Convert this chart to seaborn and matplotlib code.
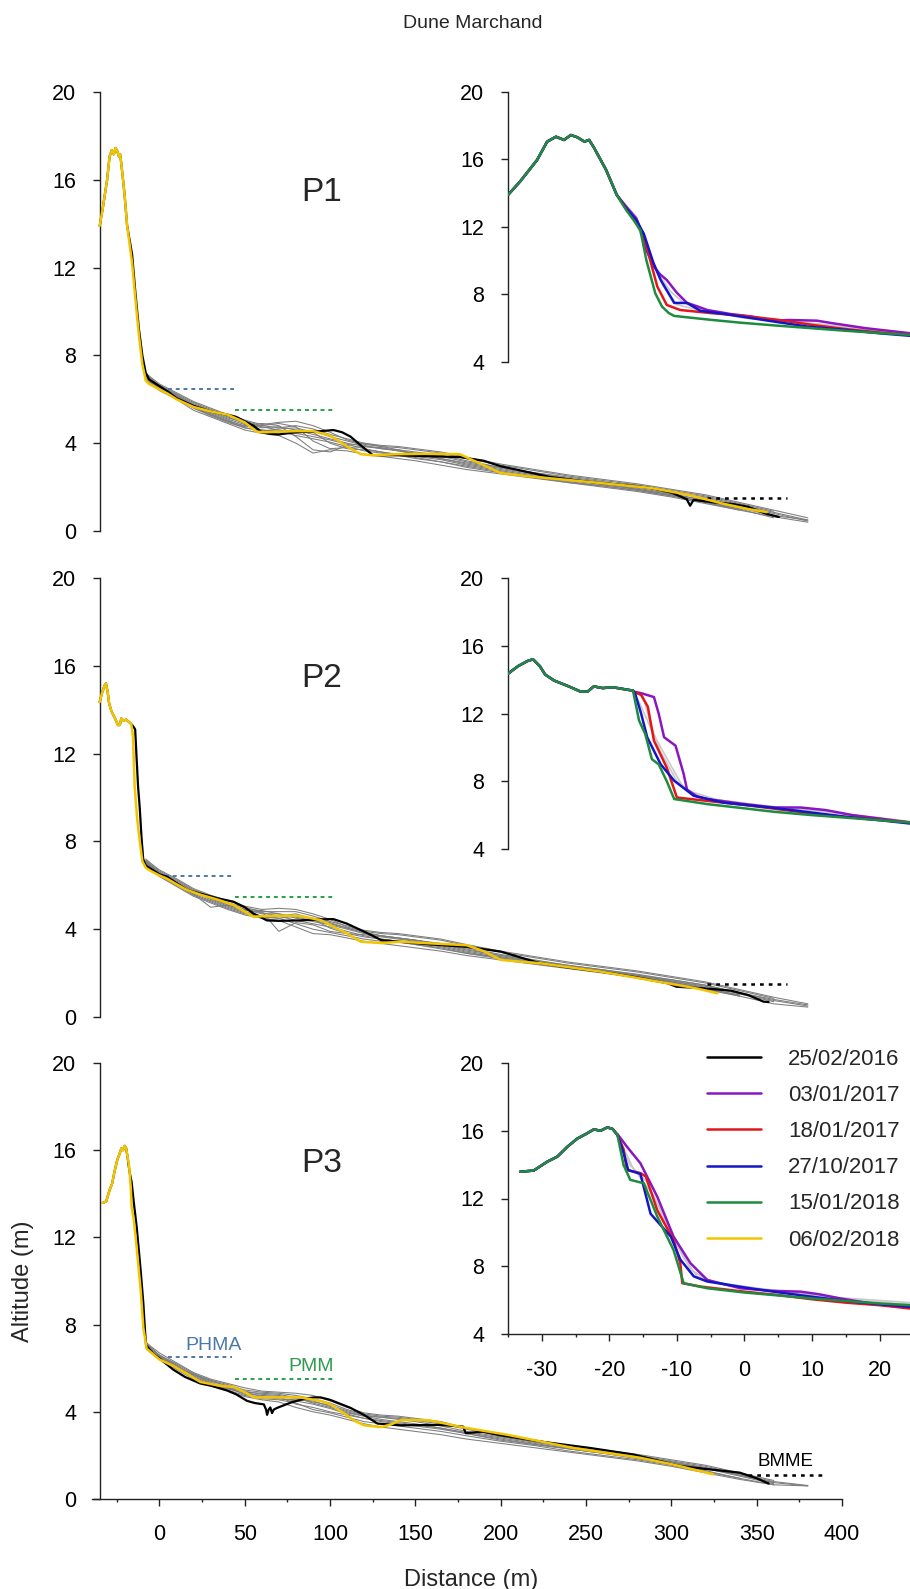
import matplotlib
matplotlib.use("Agg")
import matplotlib.pyplot as plt
import seaborn as sns
from matplotlib.lines import Line2D
from matplotlib.ticker import MultipleLocator

# ---------------- data ----------------
DATES = ["25/02/2016", "03/01/2017", "18/01/2017", "27/10/2017", "15/01/2018", "06/02/2018"]
COLORS = ["#000000", "#8A16C1", "#E3171B", "#1515C8", "#1F8B3E", "#F2C500"]
PANELS = ["P1", "P2", "P3"]

# shared distance grid (m) for the grey survey profiles
GRID = [-8, -5, 0, 10, 20, 30, 40, 50, 60, 70, 80, 90, 100, 110, 120, 130, 140,
        150, 165, 180, 200, 220, 240, 260, 280, 300, 320, 340, 360, 380]

# --- P1 ---
P1_CREST_D = [-35, -33.2, -30.7, -29.2, -27.9, -26.7, -25.7, -24.7, -23.7, -23.0, -22.3, -20.5, -18.9]
P1_CREST_Z = [13.9, 14.7, 15.97, 17.06, 17.35, 17.16, 17.45, 17.31, 17.06, 17.16, 16.72, 15.4, 13.9]
P1_BLACK_D = [-16, -14, -12, -10, -8, -6, 0, 5, 10, 20, 30, 40, 45, 50, 55, 60, 65, 70, 80, 92, 102,
              107, 112, 118, 125, 140, 160, 176, 190, 200, 215, 229, 245, 258, 275, 288, 300, 309,
              311, 313, 325, 336, 345, 355, 363]
P1_BLACK_Z = [12.6, 10.8, 9.2, 8.0, 7.2, 6.9, 6.6, 6.35, 6.05, 5.7, 5.45, 5.3, 5.2, 5.0, 4.8, 4.5,
              4.42, 4.4, 4.5, 4.53, 4.6, 4.5, 4.3, 3.9, 3.46, 3.45, 3.4, 3.37, 3.2, 2.95, 2.7, 2.46,
              2.3, 2.19, 2.08, 1.96, 1.75, 1.45, 1.15, 1.42, 1.3, 1.23, 1.1, 0.8, 0.64]
P1_YELLOW_D = [-16, -14, -12, -10, -8, -6, 0, 5, 10, 20, 30, 40, 50, 57, 62, 70, 80, 90, 100, 107,
               112, 118, 125, 140, 160, 176, 190, 200, 215, 229, 258, 288, 310, 330, 345, 356]
P1_YELLOW_Z = [12.2, 10.5, 8.9, 7.6, 6.85, 6.7, 6.45, 6.25, 6.0, 5.65, 5.45, 5.3, 4.95, 4.52, 4.5,
               4.52, 4.55, 4.55, 4.35, 4.0, 3.75, 3.5, 3.45, 3.5, 3.52, 3.5, 3.0, 2.64, 2.5, 2.4,
               2.19, 1.96, 1.65, 1.25, 1.0, 0.86]
P1_GREY = [
    [7.1, 6.9, 6.6, 6.2, 5.8, 5.5, 5.2, 4.9, 4.7, 4.75, 4.6, 4.4, 4.2, 4.0, 3.85, 3.75, 3.7, 3.6, 3.45, 3.2, 2.9, 2.65, 2.4, 2.2, 2.0, 1.75, 1.5, 1.15, 0.8, 0.45],
    [7.0, 6.8, 6.5, 6.1, 5.6, 5.3, 5.0, 4.8, 4.9, 4.8, 4.3, 3.7, 3.6, 3.9, 4.0, 3.85, 3.7, 3.5, 3.3, 3.05, 2.8, 2.55, 2.35, 2.15, 1.9, 1.65, 1.3, 0.95],
    [7.2, 7.0, 6.7, 6.3, 5.9, 5.6, 5.3, 5.05, 4.85, 4.95, 5.0, 4.8, 4.5, 4.15, 3.95, 3.85, 3.8, 3.7, 3.55, 3.3, 3.0, 2.75, 2.5, 2.3, 2.1, 1.85, 1.6, 1.25, 0.9],
    [6.9, 6.7, 6.4, 6.0, 5.5, 5.2, 4.9, 4.6, 4.45, 4.35, 4.0, 3.55, 3.7, 3.65, 3.5, 3.4, 3.3, 3.2, 3.0, 2.8, 2.6, 2.4, 2.2, 2.0, 1.8, 1.55, 1.25, 0.95, 0.65, 0.4],
    [7.0, 6.85, 6.6, 6.2, 5.7, 5.4, 5.1, 4.85, 4.6, 4.5, 4.6, 4.55, 4.3, 4.1, 3.9, 3.75, 3.65, 3.5, 3.3, 3.1, 2.85, 2.6, 2.35, 2.15, 1.95, 1.7, 1.4],
    [7.1, 6.9, 6.55, 6.15, 5.75, 5.45, 5.15, 4.95, 4.75, 4.6, 4.45, 4.3, 4.15, 3.95, 3.75, 3.6, 3.5, 3.4, 3.25, 3.0, 2.75, 2.5, 2.3, 2.1, 1.9, 1.65, 1.4, 1.05, 0.7, 0.5],
    [7.0, 6.8, 6.5, 6.1, 5.65, 5.3, 5.0, 4.7, 4.55, 4.65, 4.7, 4.5, 4.0, 3.75, 3.7, 3.6, 3.45, 3.35, 3.15, 2.95, 2.7, 2.45, 2.25, 2.05, 1.85, 1.6, 1.35, 1.0, 0.6],
    [7.05, 6.85, 6.55, 6.15, 5.7, 5.35, 5.05, 4.75, 4.8, 4.9, 4.75, 4.1, 3.75, 3.8, 3.85, 3.8, 3.65, 3.55, 3.4, 3.15, 2.9, 2.65, 2.45, 2.25, 2.0, 1.8, 1.55, 1.2, 0.85, 0.5],
    [6.95, 6.75, 6.45, 6.05, 5.6, 5.25, 4.95, 4.7, 4.6, 4.55, 4.35, 4.2, 4.05, 3.85, 3.65, 3.55, 3.45, 3.3, 3.15, 2.9, 2.65, 2.45, 2.2, 2.05, 1.85, 1.6, 1.3, 1.0],
    [7.15, 6.95, 6.65, 6.25, 5.85, 5.55, 5.25, 5.0, 4.8, 4.7, 4.8, 4.65, 4.4, 4.2, 4.0, 3.9, 3.85, 3.75, 3.6, 3.35, 3.05, 2.8, 2.55, 2.35, 2.15, 1.9, 1.65, 1.3, 0.95, 0.6],
]
# inset (zoom on the dune front), coloured surveys after the common crest
P1_PURPLE_D = [-18.9, -17.5, -16, -15.4, -14.5, -13.4, -12.5, -11.5, -10, -8.5, -7, -5.5, -2, 1, 4.3, 6.5, 10.7, 13, 18, 24.6]
P1_PURPLE_Z = [13.9, 13.2, 12.5, 11.9, 10.6, 9.65, 9.2, 8.86, 8.1, 7.5, 7.3, 7.08, 6.84, 6.7, 6.45, 6.49, 6.45, 6.3, 6.0, 5.7]
P1_RED_D = [-18.9, -17.5, -16, -14.9, -13.8, -12.9, -11.5, -9.5, -5, -0.6, 5, 10, 15, 20, 24.6]
P1_RED_Z = [13.9, 13.1, 12.3, 11.5, 9.8, 8.47, 7.38, 7.08, 6.9, 6.75, 6.5, 6.2, 5.95, 5.75, 5.6]
P1_BLUE_D = [-18.9, -17.5, -16, -14.9, -13.5, -12.4, -10.4, -8.5, -6.5, -3, -0.6, 4.3, 9.3, 15, 20, 24.6]
P1_BLUE_Z = [13.9, 13.1, 12.4, 11.6, 9.9, 8.86, 7.5, 7.5, 7.03, 6.85, 6.7, 6.4, 6.1, 5.9, 5.7, 5.55]
P1_GREEN_D = [-18.9, -17.5, -16.4, -15.4, -14.5, -13.2, -12.2, -11.2, -10.4, -5, -0.6, 5, 10, 15, 20, 24.6]
P1_GREEN_Z = [13.9, 13.0, 12.4, 11.8, 10.0, 8.07, 7.28, 6.9, 6.73, 6.5, 6.33, 6.15, 6.0, 5.85, 5.72, 5.6]
P1_LIGHT = [
    ([-18.9, -16, -14.5, -13, -11, -9, -6, 0, 8, 16, 24.6], [13.9, 12.6, 11.0, 9.4, 8.2, 7.5, 7.0, 6.7, 6.35, 6.0, 5.65]),
    ([-18.9, -16, -14, -12, -10, -7, 0, 10, 18, 24.6], [13.9, 12.2, 10.2, 8.5, 7.4, 7.1, 6.6, 6.3, 5.95, 5.7]),
]

# --- P2 ---
P2_CREST_D = [-35, -33.5, -32.1, -31.3, -30.3, -29.5, -28.2, -26, -24.3, -23.2, -22.3, -21, -19.5, -18, -16.5]
P2_CREST_Z = [14.35, 14.8, 15.1, 15.2, 14.8, 14.3, 13.95, 13.6, 13.3, 13.3, 13.6, 13.5, 13.55, 13.45, 13.35]
P2_BLACK_D = [-15, -14.2, -13.5, -12.5, -11.5, -10.5, -9.5, -8, -5, 0, 4.5, 10, 16, 25, 34, 43.5, 50,
              55, 63, 70, 82.6, 95, 102, 110, 118, 125, 130, 141, 160, 180, 200, 223, 240, 258.5,
              280, 297.6, 303, 320, 335, 345, 354, 357]
P2_BLACK_Z = [13.2, 13.1, 12.0, 10.5, 9.5, 8.2, 7.2, 6.9, 6.75, 6.5, 6.39, 6.1, 5.79, 5.6, 5.41, 5.25,
              5.0, 4.72, 4.4, 4.38, 4.4, 4.45, 4.46, 4.25, 3.96, 3.7, 3.5, 3.43, 3.3, 3.2, 2.98,
              2.45, 2.25, 2.07, 1.8, 1.54, 1.38, 1.3, 1.2, 1.0, 0.7, 0.68]
P2_YELLOW_D = [-15.5, -14.5, -13, -11.5, -10, -8, -5, 0, 4.5, 10, 16, 25, 34, 43.5, 55, 63, 75, 82.6,
               95, 102, 110, 118, 129.5, 141, 160, 180, 190, 200, 223, 258.5, 297.6, 315, 327]
P2_YELLOW_Z = [12.8, 10.5, 9.0, 8.0, 7.1, 6.8, 6.65, 6.45, 6.3, 6.05, 5.79, 5.55, 5.35, 5.1, 4.57,
               4.6, 4.62, 4.6, 4.4, 4.11, 3.8, 3.43, 3.37, 3.43, 3.35, 3.27, 3.0, 2.6, 2.45, 2.07,
               1.54, 1.3, 1.08]
P2_GREY = [
    [7.1, 6.9, 6.6, 6.2, 5.75, 5.45, 5.2, 4.9, 4.7, 4.7, 4.55, 4.4, 4.25, 4.05, 3.85, 3.7, 3.6, 3.5, 3.35, 3.15, 2.85, 2.6, 2.35, 2.15, 1.95, 1.7, 1.45, 1.1, 0.75, 0.5],
    [7.0, 6.8, 6.5, 6.05, 5.6, 5.0, 5.1, 4.85, 4.8, 3.9, 4.3, 4.2, 3.9, 3.8, 3.75, 3.65, 3.55, 3.45, 3.25, 3.0, 2.75, 2.5, 2.3, 2.1, 1.85, 1.6, 1.3, 0.95],
    [7.2, 7.0, 6.7, 6.3, 5.85, 5.55, 5.3, 5.05, 4.9, 4.95, 4.9, 4.7, 4.45, 4.1, 3.9, 3.8, 3.75, 3.65, 3.5, 3.25, 2.95, 2.7, 2.45, 2.25, 2.05, 1.8, 1.55, 1.2, 0.85],
    [6.9, 6.7, 6.4, 5.95, 5.5, 5.2, 4.9, 4.65, 4.5, 4.4, 4.1, 3.8, 3.75, 3.6, 3.45, 3.35, 3.25, 3.15, 3.0, 2.8, 2.6, 2.4, 2.2, 2.0, 1.8, 1.55, 1.25, 0.95, 0.6, 0.45],
    [7.0, 6.85, 6.55, 6.15, 5.7, 5.35, 5.05, 4.8, 4.6, 4.5, 4.6, 4.5, 4.3, 4.05, 3.85, 3.7, 3.6, 3.5, 3.3, 3.05, 2.8, 2.55, 2.3, 2.1, 1.9, 1.65, 1.35],
    [7.1, 6.9, 6.55, 6.1, 5.7, 5.4, 5.1, 4.9, 4.75, 4.6, 4.4, 4.25, 4.1, 3.9, 3.7, 3.55, 3.45, 3.35, 3.2, 2.95, 2.7, 2.5, 2.3, 2.1, 1.9, 1.65, 1.4, 1.05, 0.7],
    [7.0, 6.8, 6.5, 6.1, 5.6, 5.3, 5.0, 4.75, 4.6, 4.6, 4.7, 4.45, 4.05, 3.8, 3.65, 3.55, 3.45, 3.3, 3.1, 2.9, 2.65, 2.45, 2.25, 2.05, 1.8, 1.55, 1.3, 1.0],
    [7.05, 6.85, 6.55, 6.1, 5.65, 5.4, 5.15, 4.9, 4.85, 4.7, 4.5, 4.35, 4.2, 4.0, 3.8, 3.7, 3.6, 3.5, 3.3, 3.1, 2.8, 2.55, 2.35, 2.15, 1.9, 1.7, 1.45, 1.1, 0.8, 0.55],
    [6.95, 6.75, 6.45, 6.0, 5.55, 5.25, 4.95, 4.7, 4.55, 4.5, 4.25, 4.0, 3.85, 3.7, 3.55, 3.45, 3.4, 3.3, 3.15, 2.9, 2.7, 2.45, 2.25, 2.05, 1.85, 1.6, 1.3, 1.0],
    [7.15, 6.95, 6.65, 6.25, 5.8, 5.5, 5.2, 5.0, 4.8, 4.8, 4.8, 4.6, 4.35, 4.15, 3.95, 3.85, 3.8, 3.7, 3.55, 3.3, 3.0, 2.75, 2.5, 2.3, 2.1, 1.85, 1.6, 1.25, 0.9, 0.6],
]
P2_PURPLE_D = [-16.5, -15.3, -13.4, -12.7, -11.9, -10.2, -9, -8.5, -7, -5.5, 0, 4.3, 8.3, 12, 16, 20, 24.6]
P2_PURPLE_Z = [13.3, 13.2, 12.97, 12.0, 10.6, 10.1, 8.43, 7.5, 7.1, 6.95, 6.65, 6.45, 6.45, 6.3, 6.0, 5.8, 5.56]
P2_RED_D = [-16.5, -15.3, -14.3, -13.4, -11.5, -10, -5.5, 0, 5, 10, 15, 20, 24.6]
P2_RED_Z = [13.3, 13.1, 12.4, 10.4, 8.8, 7.04, 6.84, 6.6, 6.35, 6.1, 5.9, 5.72, 5.56]
P2_BLUE_D = [-16.5, -16.2, -15.3, -14.4, -12.4, -10.4, -7.5, -3.1, 4.3, 10, 15, 20, 24.6]
P2_BLUE_Z = [13.35, 13.2, 12.0, 10.6, 9.0, 8.03, 7.14, 6.74, 6.43, 6.15, 5.9, 5.7, 5.5]
P2_GREEN_D = [-16.5, -15.6, -14.7, -13.7, -12.7, -11.5, -10.4, -5.5, 0, 4.3, 10, 15, 20, 24.6]
P2_GREEN_Z = [13.35, 11.58, 10.8, 9.3, 9.0, 8.0, 6.95, 6.65, 6.4, 6.2, 6.0, 5.85, 5.7, 5.56]
P2_LIGHT = [
    ([-16.5, -15, -14, -12.5, -10, -8, -4, 4, 12, 24.6], [13.35, 13.0, 11.5, 9.8, 8.0, 7.4, 6.9, 6.5, 6.2, 5.6]),
    ([-16.5, -15.5, -13.5, -11, -9, -6, 2, 12, 24.6], [13.3, 12.6, 10.8, 9.0, 7.6, 7.0, 6.6, 6.2, 5.62]),
]

# --- P3 ---
P3_CREST_D = [-33.2, -31.2, -29.2, -27.7, -26.2, -24.7, -23.5, -22.3, -21.3, -20.3, -19.5, -18.8]
P3_CREST_Z = [13.58, 13.65, 14.17, 14.47, 15.06, 15.55, 15.8, 16.08, 16.0, 16.2, 16.1, 15.75]
P3_BLACK_D = [-17.5, -16.3, -15, -13.3, -11, -9.4, -8.5, -7.8, -3.5, 0, 8.2, 15, 23.9, 30, 39.6, 45,
              51.4, 56, 61.2, 62.5, 63.1, 64, 65, 66, 67, 69, 76.9, 85, 90.6, 94.5, 100, 112, 120,
              127.8, 141.6, 164.5, 178, 179.5, 189.3, 200, 223, 252.5, 277.8, 305, 320, 340, 350, 357]
P3_BLACK_Z = [15.0, 14.55, 13.6, 12.47, 10.5, 8.96, 7.8, 7.05, 6.65, 6.45, 5.93, 5.6, 5.3, 5.2, 4.98,
              4.8, 4.5, 4.4, 4.34, 4.1, 3.86, 4.1, 4.2, 3.94, 4.1, 4.18, 4.42, 4.6, 4.66, 4.66, 4.55,
              4.18, 3.85, 3.46, 3.38, 3.4, 3.32, 3.02, 3.09, 2.92, 2.64, 2.34, 2.04, 1.51, 1.38,
              1.21, 0.95, 0.71]
P3_YELLOW_D = [-17.8, -16.8, -16.3, -15, -13.3, -11, -9.4, -7.5, -3, 0, 8.2, 15, 23.9, 35, 43.5, 50,
               55.3, 63, 82.7, 94.5, 100, 108, 114, 120, 129.8, 135, 141.6, 157, 164.5, 176.9,
               203.6, 242.7, 281.8, 300, 324.7]
P3_YELLOW_Z = [15.3, 14.3, 13.4, 12.8, 11.5, 9.6, 7.85, 6.9, 6.6, 6.4, 6.1, 5.8, 5.37, 5.2, 5.14,
               4.9, 4.66, 4.66, 4.66, 4.5, 4.35, 3.94, 3.6, 3.38, 3.3, 3.4, 3.62, 3.62, 3.51, 3.3,
               2.95, 2.34, 1.89, 1.6, 1.13]
P3_GREY = [
    [7.1, 6.9, 6.55, 6.1, 5.7, 5.4, 5.2, 4.95, 4.8, 4.75, 4.6, 4.45, 4.3, 4.05, 3.85, 3.75, 3.7, 3.6, 3.45, 3.2, 2.9, 2.65, 2.4, 2.2, 1.95, 1.7, 1.45, 1.1, 0.75, 0.6],
    [7.0, 6.8, 6.5, 6.0, 5.75, 5.3, 5.05, 4.85, 4.75, 4.7, 4.35, 4.2, 4.0, 3.85, 3.7, 3.55, 3.45, 3.35, 3.2, 3.0, 2.75, 2.5, 2.3, 2.1, 1.85, 1.6, 1.3, 0.95],
    [7.2, 7.0, 6.7, 6.25, 5.8, 5.5, 5.3, 5.1, 4.95, 4.9, 4.85, 4.75, 4.5, 4.2, 3.95, 3.85, 3.8, 3.7, 3.55, 3.25, 2.95, 2.7, 2.45, 2.25, 2.05, 1.8, 1.55, 1.2, 0.85],
    [6.9, 6.7, 6.4, 5.95, 5.5, 5.2, 4.95, 4.7, 4.55, 4.45, 4.2, 4.0, 3.85, 3.65, 3.45, 3.3, 3.2, 3.1, 2.95, 2.75, 2.55, 2.35, 2.15, 1.95, 1.75, 1.5, 1.2, 0.9, 0.65, 0.6],
    [7.0, 6.85, 6.6, 6.15, 5.65, 5.35, 5.1, 4.8, 4.65, 4.6, 4.55, 4.5, 4.25, 4.0, 3.8, 3.65, 3.55, 3.45, 3.25, 3.05, 2.8, 2.55, 2.3, 2.1, 1.9, 1.65, 1.35],
    [7.1, 6.9, 6.55, 6.1, 5.7, 5.45, 5.15, 4.9, 4.7, 4.6, 4.5, 4.35, 4.15, 3.9, 3.7, 3.6, 3.5, 3.4, 3.25, 3.0, 2.7, 2.5, 2.3, 2.1, 1.9, 1.65, 1.4, 1.05, 0.7],
    [7.05, 6.85, 6.5, 6.05, 5.6, 5.3, 5.1, 4.9, 4.85, 4.8, 4.65, 4.4, 4.2, 3.95, 3.8, 3.75, 3.65, 3.55, 3.35, 3.1, 2.85, 2.6, 2.35, 2.15, 1.95, 1.7, 1.4, 1.1, 0.75],
    [6.95, 6.75, 6.45, 6.0, 5.55, 5.25, 5.0, 4.75, 4.6, 4.55, 4.4, 4.1, 3.95, 3.75, 3.55, 3.45, 3.35, 3.25, 3.1, 2.9, 2.65, 2.45, 2.2, 2.0, 1.8, 1.55, 1.25, 0.95, 0.65],
    [7.15, 6.95, 6.6, 6.2, 5.75, 5.45, 5.25, 5.0, 4.9, 4.85, 4.75, 4.6, 4.4, 4.1, 3.9, 3.8, 3.75, 3.65, 3.5, 3.25, 2.95, 2.7, 2.45, 2.25, 2.0, 1.75, 1.5, 1.15, 0.8, 0.62],
]
P3_PURPLE_D = [-18.8, -17.4, -15.4, -12.9, -10.5, -8, -5.5, -0.6, 4, 8.3, 11, 14.2, 18, 24.6]
P3_PURPLE_Z = [15.8, 15.06, 14.08, 12.1, 9.75, 8.18, 7.19, 6.7, 6.55, 6.5, 6.35, 6.1, 5.85, 5.6]
P3_RED_D = [-18.8, -17.9, -17.4, -15.4, -14.6, -12.9, -10.5, -9.5, -9.2, -6.5, 0, 5, 10, 15, 20, 24.6]
P3_RED_Z = [15.75, 14.9, 13.68, 13.5, 13.3, 11.3, 9.55, 8.18, 7.0, 6.8, 6.5, 6.3, 6.05, 5.85, 5.7, 5.5]
P3_BLUE_D = [-18.8, -17.9, -17.2, -15.4, -13.9, -10.9, -9.5, -7.5, -5.5, 0, 4.3, 10, 15, 20, 24.6]
P3_BLUE_Z = [15.75, 14.7, 13.68, 13.45, 11.1, 9.75, 8.4, 7.4, 7.1, 6.75, 6.5, 6.2, 5.95, 5.75, 5.6]
P3_GREEN_D = [-18.8, -17.9, -16.9, -14.9, -12.9, -10.5, -9, -5.5, 0, 4.3, 10, 15, 20, 24.6]
P3_GREEN_Z = [15.75, 13.98, 13.1, 12.9, 10.93, 8.96, 7.0, 6.7, 6.45, 6.3, 6.1, 5.95, 5.8, 5.7]
P3_LIGHT = [
    ([-18.8, -17, -14.5, -12, -9.5, -8, -5, 2, 12, 24.6], [15.75, 14.0, 13.0, 11.0, 9.0, 7.8, 7.1, 6.7, 6.2, 5.85]),
    ([-18.8, -16.5, -13.5, -11, -9, -7, -3, 6, 16, 24.6], [15.75, 13.8, 12.2, 10.0, 8.5, 7.4, 6.9, 6.5, 6.0, 5.75]),
]

# reference levels: PHMA, PMM, BMME  (level, start, end)
PHMA = [(6.47, 5, 43.5), (6.44, 3.5, 42.6), (6.5, 5, 42.5)]
PMM = [(5.5, 44.5, 103), (5.48, 44.5, 102), (5.5, 44.5, 102)]
BMME = [(1.5, 321, 368), (1.5, 321, 368), (1.1, 345, 388)]

# ---------------- style ----------------
sns.set_theme(style="ticks")
plt.rcParams["font.family"] = ["Liberation Sans", "DejaVu Sans"]
plt.rcParams["axes.linewidth"] = 1.0
plt.rcParams["axes.unicode_minus"] = False

GREY = "#7d7d7d"
LIGHT = "#c9c9c9"
PHMA_C = "#4C78A8"
PMM_C = "#2E9B4E"
AXC = "#222222"
FIG_W, FIG_H = 910, 1589
TICK_FS = 15.5


def frac_box(left, top, right, bottom):
    return [left / FIG_W, 1 - bottom / FIG_H, (right - left) / FIG_W, (bottom - top) / FIG_H]


def line(ax, d, z, color, lw, zorder):
    sns.lineplot(x=d, y=z, ax=ax, color=color, linewidth=lw, estimator=None,
                 sort=False, legend=False, zorder=zorder)


fig = plt.figure(figsize=(FIG_W / 100, FIG_H / 100), dpi=100)

MAIN_BOX = [(92, 92, 842, 531), (92, 578, 842, 1017), (92, 1063, 842, 1499)]
INSET_BOX = [(508, 92, 910, 362), (508, 578, 910, 849), (508, 1063, 910, 1334)]

data = {
    "P1": (P1_CREST_D, P1_CREST_Z, P1_BLACK_D, P1_BLACK_Z, P1_YELLOW_D, P1_YELLOW_Z, P1_GREY,
           [(P1_PURPLE_D, P1_PURPLE_Z), (P1_RED_D, P1_RED_Z), (P1_BLUE_D, P1_BLUE_Z), (P1_GREEN_D, P1_GREEN_Z)], P1_LIGHT),
    "P2": (P2_CREST_D, P2_CREST_Z, P2_BLACK_D, P2_BLACK_Z, P2_YELLOW_D, P2_YELLOW_Z, P2_GREY,
           [(P2_PURPLE_D, P2_PURPLE_Z), (P2_RED_D, P2_RED_Z), (P2_BLUE_D, P2_BLUE_Z), (P2_GREEN_D, P2_GREEN_Z)], P2_LIGHT),
    "P3": (P3_CREST_D, P3_CREST_Z, P3_BLACK_D, P3_BLACK_Z, P3_YELLOW_D, P3_YELLOW_Z, P3_GREY,
           [(P3_PURPLE_D, P3_PURPLE_Z), (P3_RED_D, P3_RED_Z), (P3_BLUE_D, P3_BLUE_Z), (P3_GREEN_D, P3_GREEN_Z)], P3_LIGHT),
}

tick_kw = dict(direction="out", length=5, width=1.0, color=AXC, labelsize=TICK_FS, labelcolor="black")


def style_axis(ax, with_x, major_x=None, minor_x=None, pad_x=14):
    for s in ["top", "right"]:
        ax.spines[s].set_visible(False)
    ax.spines["left"].set_color(AXC)
    ax.tick_params(axis="y", which="major", left=True, pad=12, **tick_kw)
    ax.set_xlabel("")
    ax.set_ylabel("")
    if with_x:
        ax.spines["bottom"].set_color(AXC)
        ax.xaxis.set_major_locator(MultipleLocator(major_x))
        ax.xaxis.set_minor_locator(MultipleLocator(minor_x))
        ax.tick_params(axis="x", which="major", bottom=True, pad=pad_x, **tick_kw)
        ax.tick_params(axis="x", which="minor", bottom=True, direction="out",
                       length=2.5, width=1.0, color=AXC)
    else:
        ax.spines["bottom"].set_visible(False)
        ax.set_xticks([])


for i, name in enumerate(PANELS):
    crest_d, crest_z, bd, bz, yd, yz, greys, coloured, lights = data[name]
    last = i == 2

    # ---------- main profile ----------
    ax = fig.add_axes(frac_box(*MAIN_BOX[i]))
    ax.set_facecolor("none")
    for g in greys:
        line(ax, GRID[:len(g)], g, GREY, 0.75, 1)
    line(ax, crest_d + bd, crest_z + bz, COLORS[0], 1.6, 3)
    line(ax, crest_d + yd, crest_z + yz, COLORS[5], 1.8, 4)

    lv, a, b = PHMA[i]
    ax.hlines(lv, a, b, colors=PHMA_C, linestyles=(0, (2, 2)), linewidth=1.4, zorder=2)
    lv, a, b = PMM[i]
    ax.hlines(lv, a, b, colors=PMM_C, linestyles=(0, (2, 2)), linewidth=1.4, zorder=2)
    lv, a, b = BMME[i]
    ax.hlines(lv, a, b, colors="black", linestyles=(0, (1.5, 2)), linewidth=1.8, zorder=2)

    ax.text(95, 15.4, name, fontsize=24, ha="center", va="center")

    ax.set_xlim(-39.5, 400)
    ax.set_ylim(0, 20)
    ax.set_yticks([0, 4, 8, 12, 16, 20])
    ax.spines["left"].set_position(("data", -35))
    style_axis(ax, last, 50, 25, pad_x=13)
    if last:
        ax.set_xlabel("Distance (m)", fontsize=17)
        ax.xaxis.set_label_coords(0.505, -0.16)
        ax.set_ylabel("Altitude (m)", fontsize=17)
        ax.yaxis.set_label_coords(-0.078, 0.5)
        ax.text(32, 6.65, "PHMA", color=PHMA_C, fontsize=14, ha="center", va="bottom")
        ax.text(89, 5.68, "PMM", color=PMM_C, fontsize=14, ha="center", va="bottom")
        ax.text(367, 1.35, "BMME", color="black", fontsize=13.5, ha="center", va="bottom")

    # ---------- inset: zoom on the dune front ----------
    ix = fig.add_axes(frac_box(*INSET_BOX[i]))
    ix.set_facecolor("none")
    for ld, lz in lights:
        line(ix, ld, lz, LIGHT, 1.2, 1)
    for k, (cd, cz) in enumerate(coloured):
        line(ix, crest_d + cd, crest_z + cz, COLORS[k + 1], 1.8, 2 + k)
    ix.set_xlim(-35, 24.5)
    ix.set_ylim(4, 20)
    ix.set_yticks([4, 8, 12, 16, 20])
    style_axis(ix, last, 10, 5, pad_x=14)
    if last:
        handles = [Line2D([], [], color=c, lw=1.8) for c in COLORS]
        ix.legend(handles, DATES, loc="upper left", bbox_to_anchor=(707 / FIG_W, 1 - 1049 / FIG_H),
                  bbox_transform=fig.transFigure, frameon=False, fontsize=16,
                  handlelength=2.43, handletextpad=1.23, labelspacing=0.68,
                  borderpad=0, borderaxespad=0)

fig.text(473 / FIG_W, 1 - 23 / FIG_H, "Dune Marchand", ha="center", va="center", fontsize=14)

fig.savefig("out.png", dpi=100)
